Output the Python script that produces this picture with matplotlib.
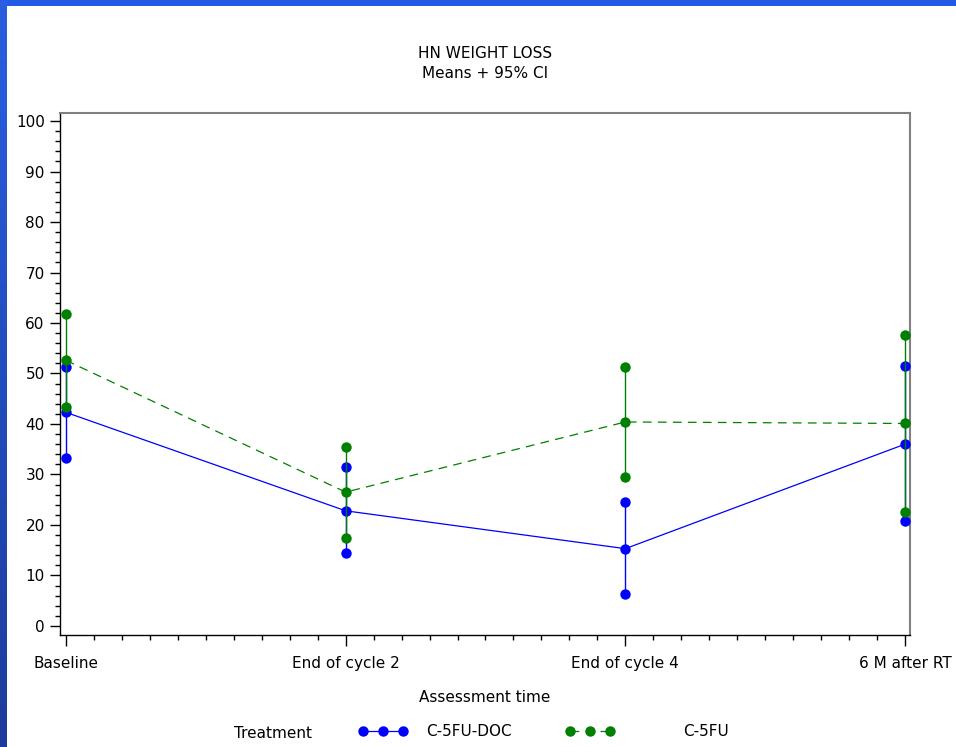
import numpy as np
import matplotlib.pyplot as plt
from matplotlib.colors import LinearSegmentedColormap
from matplotlib.ticker import MultipleLocator, FixedLocator

# assessment times
visits = ['Baseline', 'End of cycle 2', 'End of cycle 4', '6 M after RT']

# C-5FU-DOC: means and 95% CI
doc_mean = [42.3, 22.8, 15.3, 36.0]
doc_low = [33.3, 14.4, 6.3, 20.7]
doc_high = [51.3, 31.4, 24.5, 51.4]

# C-5FU: means and 95% CI
fu_mean = [52.6, 26.5, 40.4, 40.1]
fu_low = [43.4, 17.5, 29.4, 22.6]
fu_high = [61.7, 35.5, 51.3, 57.6]

BLUE = '#0000ff'
GREEN = '#008000'

plt.rcParams['font.family'] = ['DejaVu Sans']

fig = plt.figure(figsize=(9.56, 7.47), dpi=100)
fig.patch.set_facecolor('white')

# blue frame round the picture (top strip and left strip)
top = fig.add_axes([0, 1 - 6 / 747, 1, 6 / 747])
top.set_axis_off()
top.imshow([[0, 1]], cmap=LinearSegmentedColormap.from_list(
    'b', ['#225ce6', '#225ce6']), aspect='auto', extent=(0, 1, 0, 1))
left = fig.add_axes([0, 0, 7 / 956, 1])
left.set_axis_off()
grad = np.linspace(0, 1, 100).reshape(-1, 1)
left.imshow(grad, cmap=LinearSegmentedColormap.from_list(
    'g', ['#2a5ee0', '#1c3c9c']), aspect='auto', extent=(0, 1, 0, 1))

ax = fig.add_axes([60 / 956, 1 - 635 / 747, 850 / 956, 522 / 747])
x = np.arange(len(visits))

# C-5FU-DOC
ax.vlines(x, doc_low, doc_high, color=BLUE, lw=1, zorder=2)
ax.plot(x, doc_low, 'o', color=BLUE, ms=7.5, mec='none', zorder=3)
ax.plot(x, doc_high, 'o', color=BLUE, ms=7.5, mec='none', zorder=3)
l_doc, = ax.plot(x, doc_mean, '-o', color=BLUE, lw=0.9, ms=7.5, mec='none', zorder=3)

# C-5FU
ax.vlines(x, fu_low, fu_high, color=GREEN, lw=1, zorder=4)
ax.plot(x, fu_low, 'o', color=GREEN, ms=7.5, mec='none', zorder=5)
ax.plot(x, fu_high, 'o', color=GREEN, ms=7.5, mec='none', zorder=5)
l_fu, = ax.plot(x, fu_mean, '--o', color=GREEN, lw=0.9, ms=7.5, mec='none',
                dashes=(7, 5), zorder=5)

ax.set_xlim(-6 / 280, 3 + 5 / 280)
ax.set_ylim(-1.8, 101.6)

ax.yaxis.set_major_locator(MultipleLocator(10))
ax.yaxis.set_minor_locator(MultipleLocator(2))
ax.xaxis.set_major_locator(FixedLocator(x))
ax.xaxis.set_minor_locator(FixedLocator(np.arange(0, 3.001, 0.1)))
ax.set_xticklabels(visits)
ax.tick_params(axis='both', which='major', labelsize=11, length=7, width=1,
               color='black')
ax.tick_params(axis='both', which='minor', length=3.5, width=1, color='black')
ax.tick_params(axis='x', which='both', pad=7)
ax.tick_params(axis='x', which='major', length=8)
ax.tick_params(axis='y', which='major', pad=4)

for s in ['top', 'right']:
    ax.spines[s].set_color('#808080')
    ax.spines[s].set_linewidth(1.5)
for s in ['left', 'bottom']:
    ax.spines[s].set_color('black')
    ax.spines[s].set_linewidth(1)

ax.set_xlabel('Assessment time', fontsize=11, labelpad=14)

fig.text(485 / 956, 1 - 53 / 747, 'HN WEIGHT LOSS', ha='center', va='center',
         fontsize=11)
fig.text(485 / 956, 1 - 73 / 747, 'Means + 95% CI', ha='center', va='center',
         fontsize=11)

# legend below the plot
fig.text(234 / 956, 1 - 733 / 747, 'Treatment', ha='left', va='center',
         fontsize=11)
fig.legend([l_doc], ['C-5FU-DOC'], loc='center left',
           bbox_to_anchor=(345 / 956, 1 - 732 / 747), numpoints=3,
           handlelength=3.2, handletextpad=1.2, frameon=False, fontsize=11)
fig.legend([l_fu], ['C-5FU'], loc='center left',
           bbox_to_anchor=(552 / 956, 1 - 732 / 747), numpoints=3,
           handlelength=3.2, handletextpad=4.5, frameon=False, fontsize=11)

fig.savefig('out.png', dpi=100)
